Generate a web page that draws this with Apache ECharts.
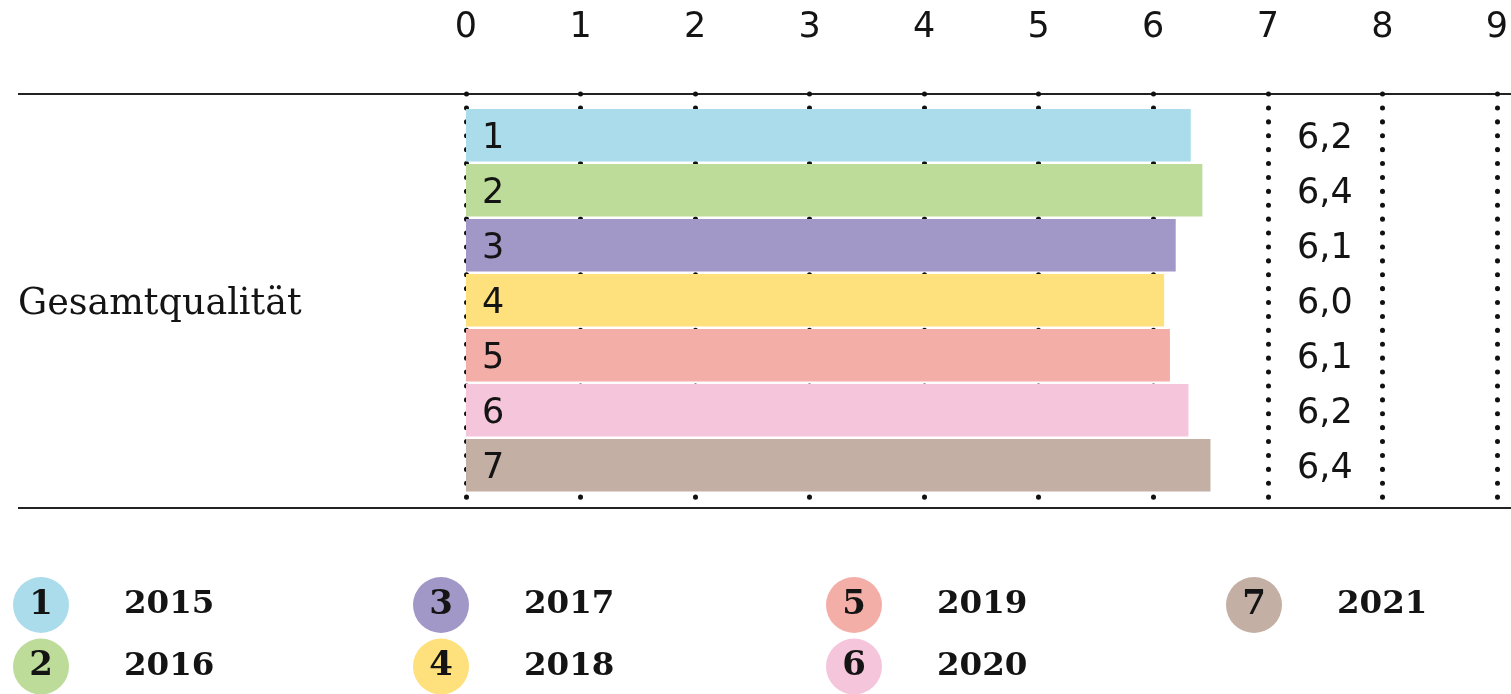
<!DOCTYPE html>
<html>
<head>
<meta charset="utf-8">
<title>Gesamtqualität</title>
<script src="https://cdn.jsdelivr.net/npm/echarts@6/dist/echarts.min.js"></script>
<style>
  html, body { margin: 0; padding: 0; background: #fff; }
  #chart { width: 1511px; height: 694px; }
</style>
</head>
<body>
<div id="chart"></div>
<script>
// data
const category = ['Gesamtqualität'];
const years = ['2015', '2016', '2017', '2018', '2019', '2020', '2021'];
const values = [6.26, 6.36, 6.13, 6.03, 6.08, 6.24, 6.43];
const valueLabels = ['6,2', '6,4', '6,1', '6,0', '6,1', '6,2', '6,4'];
const ticks = [0, 1, 2, 3, 4, 5, 6, 7, 8, 9];
const colors = ['#abdceb', '#bddb99', '#a198c8', '#fee07c', '#f4aea8', '#f5c5db', '#c4afa4'];

const sans = 'DejaVu Sans';
const serif = 'DejaVu Serif';
const ink = '#141414';

let chart = echarts.init(document.getElementById('chart'));

// one rich style per legend bubble
const rich = {
  y: { padding: [0, 0, 0, 55], fontFamily: serif, fontWeight: 'bold', fontSize: 32.5, color: ink }
};
colors.forEach((c, i) => {
  rich['c' + i] = {
    width: 56, height: 56, lineHeight: 56, borderRadius: 28,
    backgroundColor: c, align: 'center',
    fontFamily: serif, fontWeight: 'bold', fontSize: 34, color: ink
  };
});

// legend columns (two rows each)
const legendLefts = [8, 408, 821, 1221];
const legends = legendLefts.map((x, k) => ({
  data: years.slice(k * 2, k * 2 + 2),
  orient: 'vertical',
  left: x,
  top: 577,
  height: 140,
  padding: 0,
  itemGap: 5.5,
  itemWidth: 0,
  itemHeight: 0,
  selectedMode: false,
  formatter: name => {
    const i = years.indexOf(name);
    return '{c' + i + '|' + (i + 1) + '}{y|' + name + '}';
  },
  textStyle: { rich: rich }
}));

const series = years.map((y, i) => ({
  name: y,
  type: 'bar',
  stack: 'all',
  xAxisIndex: 1,
  yAxisIndex: 1,
  barWidth: 52.5,
  itemStyle: { color: colors[i] },
  label: {
    show: true,
    position: 'insideLeft',
    distance: 16,
    offset: [0, 4],
    formatter: () => String(i + 1),
    fontFamily: sans, fontSize: 35, color: ink
  },
  data: years.map((_, j) => (j === i ? values[i] : '-'))
}));

chart.setOption({
  animation: false,
  grid: [
    // frame: dotted grid lines + top tick labels
    { left: 466, right: 3, top: 94, height: 414 },
    // bars
    { left: 466, right: 3, top: 107.8, height: 385 },
    // text columns, nudged down a little to sit like the original
    { left: 466, right: 3, top: 111.8, height: 385 }
  ],
  xAxis: [
    {
      gridIndex: 0,
      type: 'value',
      position: 'top',
      min: ticks[0],
      max: ticks[ticks.length - 1],
      interval: 1,
      axisLine: { show: false },
      axisTick: { show: false },
      axisLabel: { margin: 49, fontFamily: sans, fontSize: 35, color: ink },
      splitLine: {
        show: true,
        lineStyle: { color: '#111', width: 5, type: [0.1, 13.8], cap: 'round' }
      }
    },
    { gridIndex: 1, type: 'value', min: ticks[0], max: ticks[ticks.length - 1], show: false },
    { gridIndex: 2, type: 'value', min: ticks[0], max: ticks[ticks.length - 1], show: false }
  ],
  yAxis: [
    { gridIndex: 0, type: 'value', show: false },
    { gridIndex: 1, type: 'category', data: years, inverse: true, show: false },
    {
      gridIndex: 2,
      type: 'category',
      data: category,
      axisLine: { show: false },
      axisTick: { show: false },
      axisLabel: { margin: 448, align: 'left', fontFamily: serif, fontSize: 36.5, color: ink }
    },
    {
      // value column, drawn as labels of a right-hand axis pulled inside
      gridIndex: 2,
      type: 'category',
      data: years,
      inverse: true,
      position: 'right',
      offset: -231,
      axisLine: { show: false },
      axisTick: { show: false },
      axisLabel: {
        margin: 20,
        formatter: (v, i) => valueLabels[i],
        fontFamily: sans, fontSize: 35, color: ink
      }
    }
  ],
  legend: legends,
  graphic: [
    { type: 'line', shape: { x1: 18, y1: 94, x2: 1511, y2: 94 }, style: { stroke: '#222', lineWidth: 2 }, z: -1 },
    { type: 'line', shape: { x1: 18, y1: 508, x2: 1511, y2: 508 }, style: { stroke: '#222', lineWidth: 2 }, z: -1 }
  ],
  series: series
});
</script>
</body>
</html>
